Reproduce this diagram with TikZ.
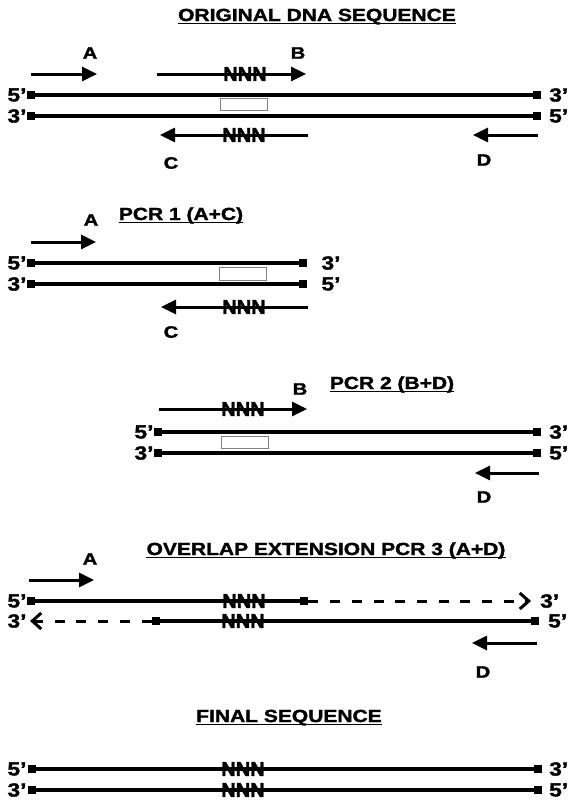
\documentclass[tikz,border=0pt]{standalone}
\usepackage{fontspec}
\setmainfont{Liberation Sans}[BoldFeatures={FakeBold=1.5}]
\usetikzlibrary{arrows.meta}
% all lettering in the figure is set wide
\newcommand{\wide}[1]{\scalebox{1.2}[1]{#1}}
\newcommand{\wider}[1]{\scalebox{1.22}[1]{#1}}

\begin{document}
\begin{tikzpicture}[x=1pt,y=-1pt,
  strand/.style={line width=4.7pt},
  endsq/.style={rectangle, fill=black, minimum size=8.5pt, inner sep=0pt},
  primer/.style={line width=3pt, -{Triangle[length=15pt,width=14pt]}},
  ext/.style={line width=3pt, dash pattern=on 10pt off 11.7pt, -{Straight Barb[length=9pt,width=16pt]}},
  gapbox/.style={draw=gray, line width=1.1pt, fill=white, minimum width=47pt, minimum height=12.5pt, inner sep=0pt},
  title/.style={font=\fontsize{17.5}{20}\selectfont\bfseries, inner sep=0pt, anchor=base},
  uline/.style={line width=1.5pt},
  lab/.style={font=\fontsize{16.5}{18}\selectfont\bfseries, inner sep=0pt},
  endlab/.style={font=\fontsize{19}{20}\selectfont\bfseries, inner sep=0pt},
  nnn/.style={font=\fontsize{20}{20}\selectfont\bfseries, inner sep=0pt},
]
\clip (0,0) rectangle (570,801);

% ================= ORIGINAL DNA SEQUENCE =================
\node[title] (t1) at (317,21) {\wide{ORIGINAL DNA SEQUENCE}};
\draw[uline] ([yshift=-2.5pt]t1.base west) -- ([yshift=-2.5pt]t1.base east);

\node[lab] (oA) at (90,53) {\wider{A}};
\node[lab] (oB) at (298,53) {\wider{B}};
\coordinate (oA1) at (31,74);  \coordinate (oA2) at (97,74);
\draw[primer] (oA1) -- (oA2);
\node[nnn] (oBn) at (245,74) {NNN};
\coordinate (oB1) at (157,74); \coordinate (oB2) at (306,74);
\draw[primer] (oB1) -- (oB2);

\node[endsq] (o5a) at (31,95) {};  \node[endsq] (o3a) at (537,95) {};
\node[endsq] (o3b) at (31,116) {}; \node[endsq] (o5b) at (537,116) {};
\draw[strand] (o5a.center) -- (o3a.center);
\draw[strand] (o3b.center) -- (o5b.center);
\node[gapbox] (obox) at (244,104.5) {};
\node[endlab] (oL1) at (17,95) {\wide{5’}};
\node[endlab] (oL2) at (17,116) {\wide{3’}};
\node[endlab, anchor=west] (oR1) at (549,95) {\wide{3’}};
\node[endlab, anchor=west] (oR2) at (549,116) {\wide{5’}};

\node[nnn] (oCn) at (244,135) {NNN};
\coordinate (oC1) at (308,135); \coordinate (oC2) at (160,135);
\draw[primer] (oC1) -- (oC2);
\coordinate (oD1) at (538,135); \coordinate (oD2) at (473,135);
\draw[primer] (oD1) -- (oD2);
\node[lab] (oC) at (171,163) {\wider{C}};
\node[lab] (oD) at (484,160) {\wider{D}};

% ================= PCR 1 (A+C) =================
\node[title] (t2) at (181,220) {\wide{PCR 1 (A+C)}};
\draw[uline] ([yshift=-2.5pt]t2.base west) -- ([yshift=-2.5pt]t2.base east);

\node[lab] (pA) at (91,220) {\wider{A}};
\coordinate (pA1) at (31,242); \coordinate (pA2) at (96,242);
\draw[primer] (pA1) -- (pA2);

\node[endsq] (p5a) at (31,263) {};  \node[endsq] (p3a) at (303,263) {};
\node[endsq] (p3b) at (31,284) {};  \node[endsq] (p5b) at (303,284) {};
\draw[strand] (p5a.center) -- (p3a.center);
\draw[strand] (p3b.center) -- (p5b.center);
\node[gapbox] (pbox) at (243,274) {};
\node[endlab] (pL1) at (17,263) {\wide{5’}};
\node[endlab] (pL2) at (17,284) {\wide{3’}};
\node[endlab] (pR1) at (331,263) {\wide{3’}};
\node[endlab] (pR2) at (331,284) {\wide{5’}};

\node[nnn] (pCn) at (244,307) {NNN};
\coordinate (pC1) at (308,307); \coordinate (pC2) at (161,307);
\draw[primer] (pC1) -- (pC2);
\node[lab] (pC) at (171,332) {\wider{C}};

% ================= PCR 2 (B+D) =================
\node[title] (t3) at (392,389) {\wide{PCR 2 (B+D)}};
\draw[uline] ([yshift=-2.5pt]t3.base west) -- ([yshift=-2.5pt]t3.base east);

\node[lab] (qB) at (300,389) {\wider{B}};
\node[nnn] (qBn) at (243,409) {NNN};
\coordinate (qB1) at (159,409); \coordinate (qB2) at (307,409);
\draw[primer] (qB1) -- (qB2);

\node[endsq] (q5a) at (158,432) {}; \node[endsq] (q3a) at (537,432) {};
\node[endsq] (q3b) at (158,453) {}; \node[endsq] (q5b) at (537,453) {};
\draw[strand] (q5a.center) -- (q3a.center);
\draw[strand] (q3b.center) -- (q5b.center);
\node[gapbox] (qbox) at (245,442.5) {};
\node[endlab] (qL1) at (144,432) {\wide{5’}};
\node[endlab] (qL2) at (144,453) {\wide{3’}};
\node[endlab, anchor=west] (qR1) at (549,432) {\wide{3’}};
\node[endlab, anchor=west] (qR2) at (549,453) {\wide{5’}};

\coordinate (qD1) at (539,473); \coordinate (qD2) at (475,473);
\draw[primer] (qD1) -- (qD2);
\node[lab] (qD) at (484,497) {\wider{D}};

% ================= OVERLAP EXTENSION PCR 3 (A+D) =================
\node[title] (t4) at (326,555) {\wide{OVERLAP EXTENSION PCR 3 (A+D)}};
\draw[uline] ([yshift=-2.5pt]t4.base west) -- ([yshift=-2.5pt]t4.base east);

\node[lab] (rA) at (90,559) {\wider{A}};
\coordinate (rA1) at (29,580); \coordinate (rA2) at (94,580);
\draw[primer] (rA1) -- (rA2);

\node[nnn] (rNt) at (244,601) {NNN};
\node[nnn] (rNb) at (243,621) {NNN};
\node[endsq] (r5a) at (31,601) {};  \node[endsq] (r3a) at (304,601) {};
\node[endsq] (r3b) at (156,621) {}; \node[endsq] (r5b) at (535,621) {};
\coordinate (rTip1) at (531,601);
\coordinate (rTip2) at (30,621);
\draw[strand] (r5a.center) -- (r3a.center);
\draw[strand] (r3b.center) -- (r5b.center);
\draw[ext] (r3a.east) -- (rTip1);
\draw[ext] (r3b.west) -- (rTip2);
\node[endlab] (rL1) at (17,601) {\wide{5’}};
\node[endlab] (rL2) at (17,621) {\wide{3’}};
\node[endlab, anchor=west] (rR1) at (540,601) {\wide{3’}};
\node[endlab, anchor=west] (rR2) at (548,621) {\wide{5’}};

\coordinate (rD1) at (537,643); \coordinate (rD2) at (472,643);
\draw[primer] (rD1) -- (rD2);
\node[lab] (rD) at (483,672) {\wider{D}};

% ================= FINAL SEQUENCE =================
\node[title] (t5) at (289,722) {\wide{FINAL SEQUENCE}};
\draw[uline] ([yshift=-2.5pt]t5.base west) -- ([yshift=-2.5pt]t5.base east);

\node[nnn] (fNt) at (243,769) {NNN};
\node[nnn] (fNb) at (243,790) {NNN};
\node[endsq] (f5a) at (32,769) {};  \node[endsq] (f3a) at (538,769) {};
\node[endsq] (f3b) at (32,790) {};  \node[endsq] (f5b) at (538,790) {};
\draw[strand] (f5a.center) -- (f3a.center);
\draw[strand] (f3b.center) -- (f5b.center);
\node[endlab] (fL1) at (17,769) {\wide{5’}};
\node[endlab] (fL2) at (17,790) {\wide{3’}};
\node[endlab, anchor=west] (fR1) at (549,769) {\wide{3’}};
\node[endlab, anchor=west] (fR2) at (549,790) {\wide{5’}};
\end{tikzpicture}
\end{document}
